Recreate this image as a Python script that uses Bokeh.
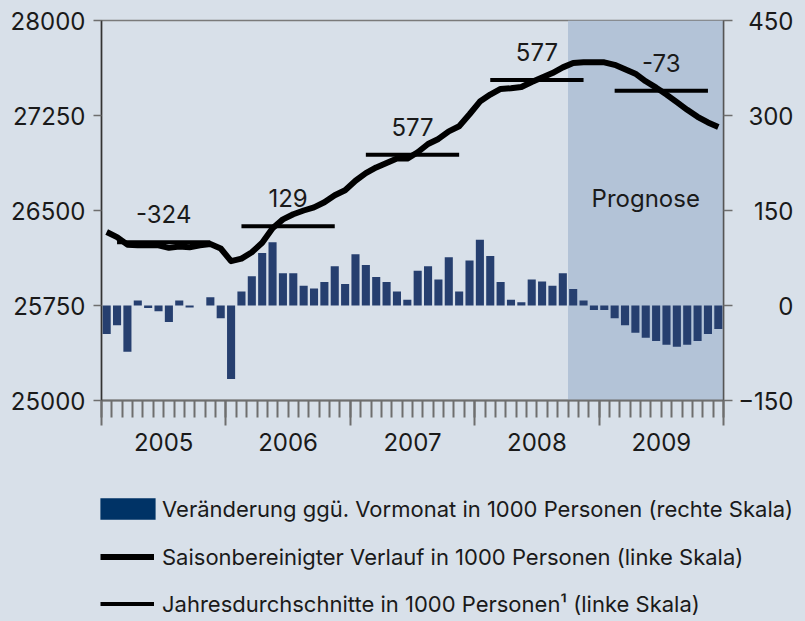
from bokeh.plotting import figure
from bokeh.layouts import row, column
from bokeh.models import Range1d, LinearAxis, FixedTicker, BoxAnnotation, Label, Legend, LegendItem
from bokeh.core.properties import value
from bokeh.embed import file_html
from bokeh.resources import INLINE

# ---------------- data ----------------
years = [2005, 2006, 2007, 2008, 2009]

# monthly change vs previous month, 1000 persons (right scale)
monthly_change = [
    -45, -31, -73, 8, -4, -9, -26, 8, -3, 0, 13, -20,
    -116, 22, 46, 83, 100, 51, 51, 31, 27, 37, 62, 34,
    81, 64, 45, 37, 22, 9, 55, 62, 41, 76, 22, 71,
    104, 78, 37, 9, 5, 41, 38, 31, 51, 26, 8, -7,
    -7, -20, -31, -43, -51, -56, -62, -65, -62, -56, -45, -37,
]

# seasonally adjusted level, 1000 persons (left scale)
level_sa = [
    26330, 26290, 26230, 26225, 26225, 26225, 26205, 26215, 26210, 26225, 26235, 26200,
    26100, 26120, 26170, 26245, 26360, 26430, 26470, 26500, 26525, 26565, 26620, 26660,
    26735, 26795, 26840, 26875, 26910, 26910, 26960, 27025, 27065, 27125, 27165, 27260,
    27360, 27415, 27460, 27465, 27475, 27515, 27550, 27585, 27630, 27665, 27670, 27670,
    27670, 27650, 27615, 27580, 27520, 27470, 27415, 27355, 27295, 27240, 27195, 27160,
]

# annual averages (left scale) and their year-on-year change labels
annual_avg = [26250, 26375, 26940, 27530, 27445]
annual_diff_labels = ["-324", "129", "577", "577", "-73"]

left_ticks = [25000, 25750, 26500, 27250, 28000]
right_ticks = [-150, 0, 150, 300, 450]
forecast_start = 45  # first forecast month index (Oct 2008)
forecast_label = "Prognose"

legend_labels = [
    "Veränderung ggü. Vormonat in 1000 Personen (rechte Skala)",
    "Saisonbereinigter Verlauf in 1000 Personen (linke Skala)",
    "Jahresdurchschnitte in 1000 Personen¹ (linke Skala)",
]

# ---------------- style ----------------
FONT = "Inter"
BG = "#d8e0e9"
SHADE = "#b3c3d7"
BAR = "#263f6f"
BAR_LEG = "#003366"
TXT = "#1a1a1a"
AX = "#6e6e6e"
FS = "24px"

n = len(monthly_change)
x_mid = [i + 0.5 for i in range(n)]
year_mid = [12 * k + 6 for k in range(len(years))]
seg_x0 = [12 * k + 1.5 for k in range(len(years))]
seg_x1 = [12 * k + 10.5 for k in range(len(years))]

common = dict(output_backend="svg", toolbar_location=None,
              background_fill_color=BG, border_fill_color=BG)

# ---------------- main chart ----------------
p = figure(width=735, height=480,
           x_range=Range1d(0, n), y_range=Range1d(left_ticks[0], left_ticks[-1]),
           min_border_left=101, min_border_right=12, min_border_top=20, min_border_bottom=80,
           outline_line_color="#7a7a7a", outline_line_width=1.5, **common)
p.extra_y_ranges = {"right": Range1d(right_ticks[0], right_ticks[-1])}
p.grid.visible = False

p.add_layout(BoxAnnotation(left=forecast_start, right=n, fill_color=SHADE, fill_alpha=1,
                           line_alpha=0, level="underlay"))

p.vbar(x=x_mid, top=monthly_change, bottom=0, width=0.78, fill_color=BAR,
       line_color=None, y_range_name="right")
p.line(x_mid, level_sa, line_width=6, line_color="black", line_join="round")
p.segment(x0=seg_x0, y0=annual_avg, x1=seg_x1, y1=annual_avg,
          line_width=4, line_color="black")
p.text(x=year_mid, y=annual_avg, text=annual_diff_labels, text_align="center",
       text_baseline="middle", y_offset=-28, text_font=value(FONT),
       text_font_size=FS, text_color=TXT)
p.add_layout(Label(x=(forecast_start + n) / 2, y=26595, text=forecast_label,
                   text_align="center", text_baseline="middle", text_font=FONT,
                   text_font_size=FS, text_color=TXT))

# left axis
ya = p.yaxis[0]
ya.ticker = FixedTicker(ticks=left_ticks)
ya.major_tick_out = 8
ya.major_tick_in = 0
ya.minor_tick_line_color = None
ya.major_label_standoff = 8
ya.major_label_text_font = FONT
ya.major_label_text_font_size = FS
ya.major_label_text_color = TXT
ya.axis_line_color = "#333333"
ya.axis_line_width = 1.5
ya.major_tick_line_color = AX
ya.major_tick_line_width = 1.5

# right axis: ticks only (labels in the side panel figure)
ra = LinearAxis(y_range_name="right", ticker=FixedTicker(ticks=right_ticks))
ra.major_tick_out = 9
ra.major_tick_in = 0
ra.minor_tick_line_color = None
ra.major_label_text_color = None
ra.major_label_text_font_size = "1px"
ra.major_label_standoff = 0
ra.axis_line_color = "#555555"
ra.axis_line_width = 1.5
ra.major_tick_line_color = AX
ra.major_tick_line_width = 1.5
p.add_layout(ra, "right")

# bottom axis: long ticks at year boundaries, short ticks per month
xa = p.xaxis[0]
xa.ticker = FixedTicker(ticks=list(range(0, n + 1, 12)), minor_ticks=list(range(n + 1)))
xa.major_tick_out = 25
xa.major_tick_in = 0
xa.minor_tick_out = 17
xa.minor_tick_in = 0
xa.major_tick_line_color = AX
xa.minor_tick_line_color = AX
xa.major_tick_line_width = 2
xa.minor_tick_line_width = 2
xa.axis_line_color = AX
xa.axis_line_width = 2
xa.major_label_text_color = None
xa.major_label_text_font_size = "1px"
xa.major_label_standoff = 0

# year labels axis
yax = LinearAxis(ticker=FixedTicker(ticks=year_mid, minor_ticks=[]),
                 major_label_overrides={m: str(y) for m, y in zip(year_mid, years)})
yax.axis_line_color = None
yax.major_tick_line_color = None
yax.minor_tick_line_color = None
yax.major_tick_out = 0
yax.major_tick_in = 0
yax.major_label_standoff = 7
yax.major_label_text_font = FONT
yax.major_label_text_font_size = FS
yax.major_label_text_color = TXT
p.add_layout(yax, "below")

# ---------------- right-scale labels (right aligned) ----------------
pr = figure(width=70, height=480, x_range=Range1d(0, 1),
            y_range=Range1d(right_ticks[0], right_ticks[-1]), x_axis_type=None,
            min_border_left=60, min_border_right=0, min_border_top=20, min_border_bottom=80,
            outline_line_color=None, **common)
pr.grid.visible = False
ry = pr.yaxis[0]
ry.ticker = FixedTicker(ticks=right_ticks)
ry.axis_line_color = None
ry.major_tick_line_color = None
ry.minor_tick_line_color = None
ry.major_tick_out = 0
ry.major_tick_in = 0
ry.major_label_standoff = 2
ry.major_label_text_font = FONT
ry.major_label_text_font_size = FS
ry.major_label_text_color = TXT

# ---------------- legend panel ----------------
pl = figure(width=805, height=140, x_range=Range1d(0, 1), y_range=Range1d(0, 1),
            x_axis_type=None, y_axis_type=None, min_border=0,
            outline_line_color=None, **common)
pl.grid.visible = False
# legend swatches: renderers whose (single) data point lies outside the visible range
box_r = pl.vbar(x=[5], top=[1], width=0.5, fill_color=BAR_LEG, line_color=None)
line_r = pl.line(x=[5, 6], y=[0.5, 0.5], line_width=6, line_color="black")
seg_r = pl.segment(x0=[5], y0=[0.5], x1=[6], y1=[0.5], line_width=4, line_color="black")

leg_common = dict(padding=0, margin=0, border_line_color=None, background_fill_alpha=0,
                  label_text_font=FONT, label_text_font_size="22px", label_text_color=TXT,
                  glyph_height=27, label_height=27)
leg1 = Legend(items=[LegendItem(label=legend_labels[0], renderers=[box_r])],
              location=(93, 98), glyph_width=69, label_standoff=0, spacing=0, **leg_common)
leg2 = Legend(items=[LegendItem(label=legend_labels[1], renderers=[line_r]),
                     LegendItem(label=legend_labels[2], renderers=[seg_r])],
              location=(100, 3), glyph_width=54, label_standoff=8, spacing=20, **leg_common)
pl.add_layout(leg1, "center")
pl.add_layout(leg2, "center")

layout = column(row(p, pr), pl)

html = file_html(layout, INLINE, title="Chart")
i = html.rfind("<body")
html = html[:i] + '<body style="background-color:%s"' % BG + html[i + 5:]
open("out.html", "w").write(html)
